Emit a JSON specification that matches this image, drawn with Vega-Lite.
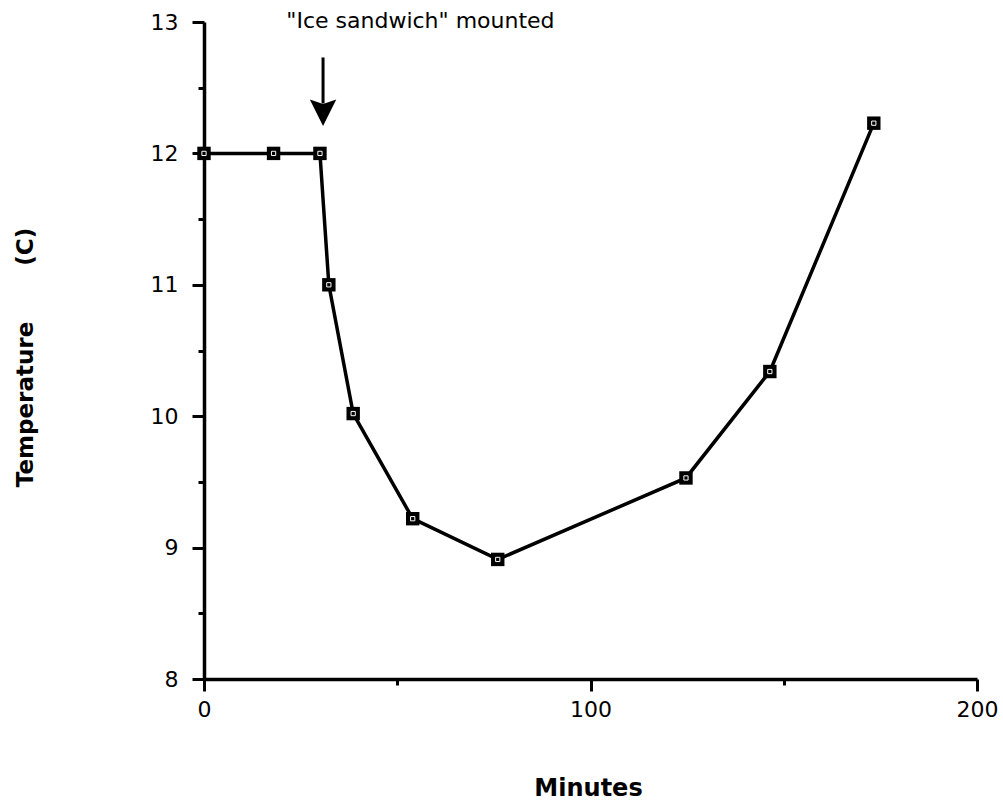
{
  "$schema": "https://vega.github.io/schema/vega-lite/v6.json",
  "width": 773,
  "height": 657,
  "autosize": {"type": "none"},
  "padding": {"left": 204, "top": 22, "right": 26, "bottom": 122},
  "background": "white",
  "config": {
    "view": {"stroke": null},
    "axis": {"grid": false, "domainColor": "black", "tickColor": "black", "labelColor": "black", "titleColor": "black", "labelFont": "DejaVu Sans", "titleFont": "DejaVu Sans"}
  },
  "datasets": {
    "pts": [
      {"t": 0, "temp": 12.0},
      {"t": 18, "temp": 12.0},
      {"t": 30, "temp": 12.0},
      {"t": 32.3, "temp": 11.0},
      {"t": 38.6, "temp": 10.02},
      {"t": 54, "temp": 9.22},
      {"t": 76, "temp": 8.91},
      {"t": 124.7, "temp": 9.53},
      {"t": 146.4, "temp": 10.34},
      {"t": 173.3, "temp": 12.23}
    ],
    "arrow": [{"ax": 30.8, "y1": 12.73, "y2": 12.38, "head": 12.31}],
    "note": [{"nx": 56, "ny": 12.955, "label": "\"Ice sandwich\" mounted"}]
  },
  "resolve": {"axis": {"x": "independent", "y": "independent"}},
  "layer": [
    {
      "data": {"name": "pts"},
      "mark": {"type": "line", "color": "black", "strokeWidth": 3.5},
      "encoding": {
        "x": {"field": "t", "type": "quantitative", "scale": {"domain": [0, 200], "nice": false, "zero": false},
          "axis": {"orient": "bottom", "values": [0, 100, 200], "title": "Minutes", "titleFont": "DejaVu Sans", "titleFontWeight": "bold", "titleFontSize": 24, "titleX": 384, "titleY": 109, "titleBaseline": "middle", "titleAlign": "center",
            "labelFontSize": 22, "labelPadding": 8, "tickSize": 12, "tickWidth": 3, "domainWidth": 3.5, "labelFlush": false}},
        "y": {"field": "temp", "type": "quantitative", "scale": {"domain": [8, 13], "nice": false, "zero": false},
          "axis": {"orient": "left", "values": [8, 9, 10, 11, 12, 13], "title": "Temperature\u00a0\u00a0\u00a0\u00a0\u00a0\u00a0\u00a0(C)", "titleFontWeight": "bold", "titleFontSize": 23, "titleX": -179, "titleY": 335, "titleAngle": -90, "titleBaseline": "middle", "titleAlign": "center",
            "labelFontSize": 22, "labelPadding": 14, "tickSize": 12, "tickWidth": 3, "domainWidth": 3.5}}
      }
    },
    {
      "data": {"name": "pts"},
      "mark": {"type": "point", "shape": "square", "filled": true, "color": "black", "size": 180, "opacity": 1},
      "encoding": {
        "x": {"field": "t", "type": "quantitative", "scale": {"domain": [0, 200], "nice": false, "zero": false},
          "axis": {"orient": "bottom", "values": [50, 150], "labels": false, "domain": false, "title": null, "tickSize": 6, "tickWidth": 3}},
        "y": {"field": "temp", "type": "quantitative", "scale": {"domain": [8, 13], "nice": false, "zero": false},
          "axis": {"orient": "left", "values": [8.5, 9.5, 10.5, 11.5, 12.5], "labels": false, "domain": false, "title": null, "tickSize": 6, "tickWidth": 3}}
      }
    },
    {
      "data": {"name": "pts"},
      "mark": {"type": "point", "shape": "square", "filled": false, "color": "white", "strokeWidth": 1, "size": 18, "opacity": 1},
      "encoding": {
        "x": {"field": "t", "type": "quantitative", "axis": null},
        "y": {"field": "temp", "type": "quantitative", "axis": null}
      }
    },
    {
      "data": {"name": "arrow"},
      "mark": {"type": "rule", "color": "black", "strokeWidth": 3},
      "encoding": {
        "x": {"field": "ax", "type": "quantitative", "axis": null},
        "y": {"field": "y1", "type": "quantitative", "axis": null},
        "y2": {"field": "y2"}
      }
    },
    {
      "data": {"name": "arrow"},
      "mark": {"type": "point", "shape": "M-1,-1L0,-0.65L1,-1L0,1Z", "filled": true, "color": "black", "size": 700, "opacity": 1},
      "encoding": {
        "x": {"field": "ax", "type": "quantitative", "axis": null},
        "y": {"field": "head", "type": "quantitative", "axis": null}
      }
    },
    {
      "data": {"name": "note"},
      "mark": {"type": "text", "font": "DejaVu Sans", "fontSize": 22, "color": "black", "align": "center", "baseline": "alphabetic", "clip": false},
      "encoding": {
        "x": {"field": "nx", "type": "quantitative", "axis": null},
        "y": {"field": "ny", "type": "quantitative", "axis": null},
        "text": {"field": "label"}
      }
    }
  ]
}
